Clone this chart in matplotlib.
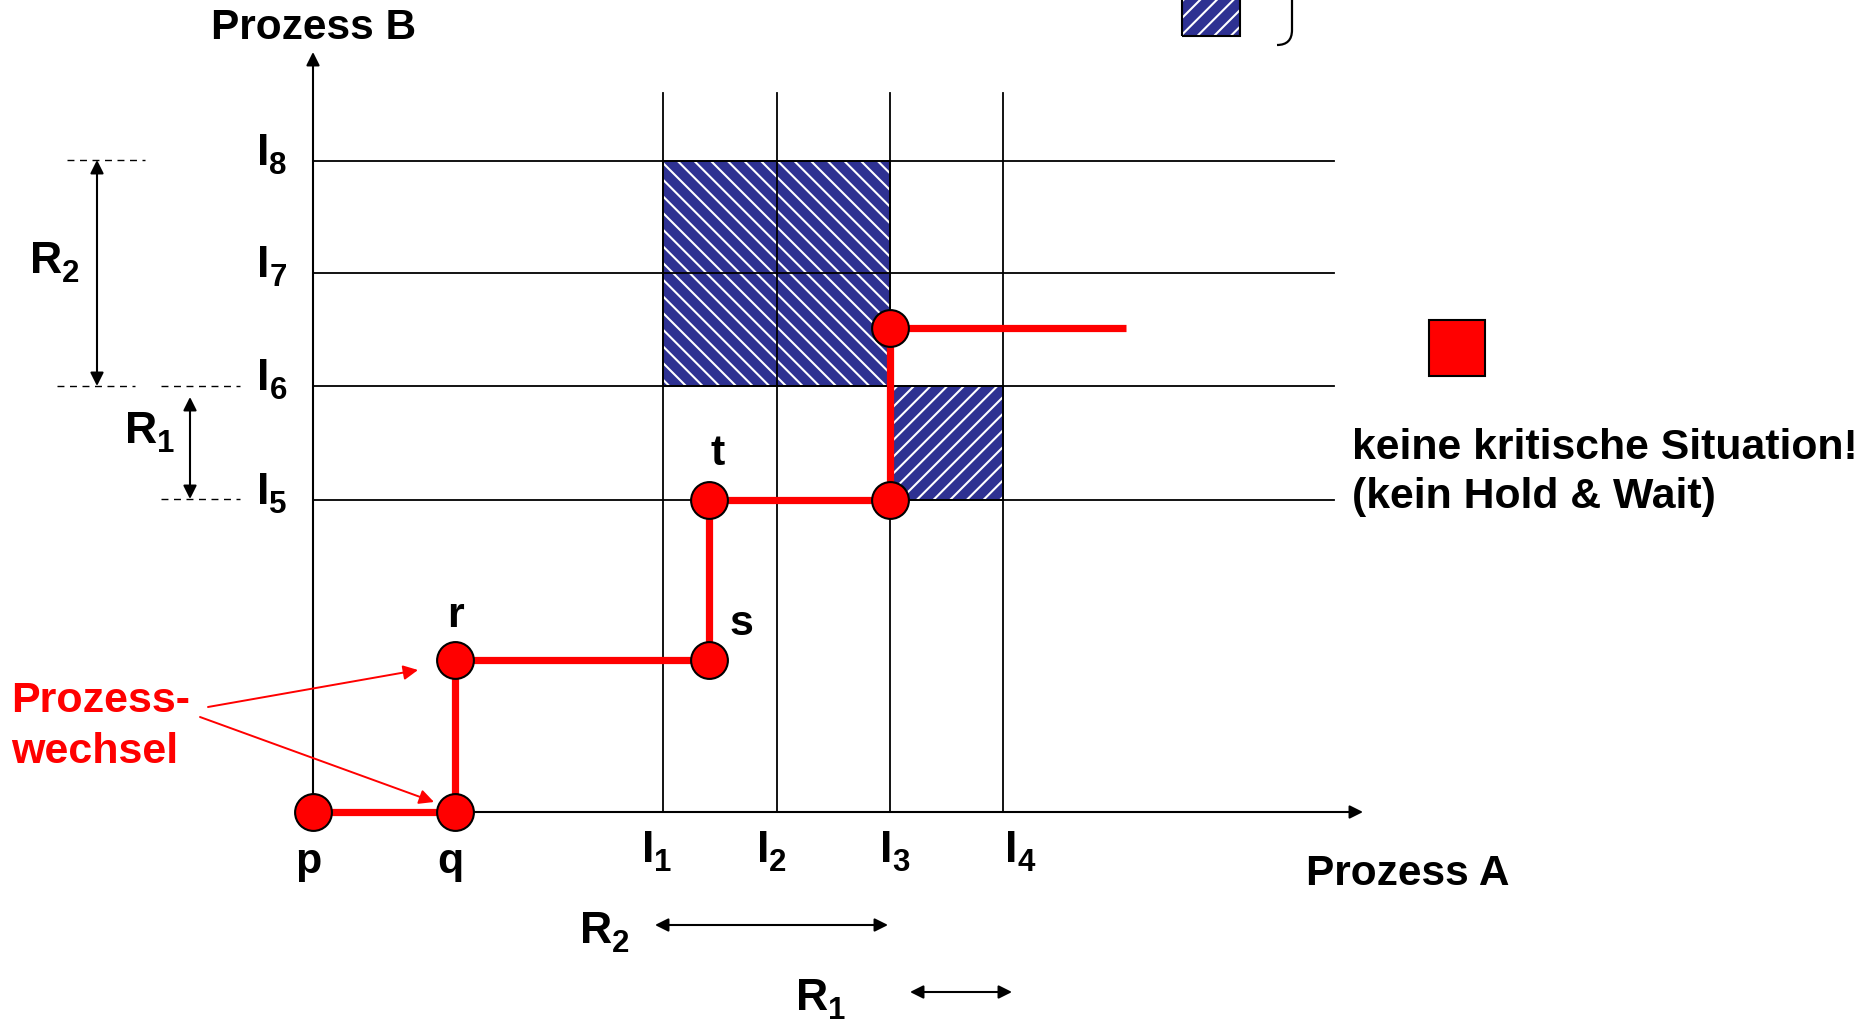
import matplotlib
matplotlib.use('Agg')
import matplotlib.pyplot as plt
from matplotlib.patches import Rectangle, FancyArrowPatch, PathPatch
from matplotlib.path import Path

plt.rcParams['font.family'] = ['Liberation Sans', 'DejaVu Sans']
plt.rcParams['font.weight'] = 'bold'
plt.rcParams['hatch.linewidth'] = 1.5

# ---------------- data ----------------
grid_x_labels = [('I', '1'), ('I', '2'), ('I', '3'), ('I', '4')]
grid_x = [3.08, 4.09, 5.08, 6.08]
grid_y_labels = [('I', '5'), ('I', '6'), ('I', '7'), ('I', '8')]
grid_y = [2.75, 3.75, 4.75, 5.74]

path_x = [0.0, 1.25, 1.25, 3.49, 3.49, 5.08, 5.08, 7.16]
path_y = [0.0, 0.0, 1.34, 1.34, 2.75, 2.75, 4.26, 4.26]
point_names = ['p', 'q', 'r', 's', 't']

# blocked regions (x from grid_x index a to b, y from grid_y index c to d)
block_R2 = (0, 2, 1, 3)   # I1..I3 x I6..I8
block_R1 = (2, 3, 0, 1)   # I3..I4 x I5..I6

# ---------------- layout helpers ----------------
U, OX, OY = 113.5, 313.0, 812.0
W, H = 1872, 1023


def P(xp, yp):
    return ((xp - OX) / U, (OY - yp) / U)


fig = plt.figure(figsize=(W / 100, H / 100), dpi=100)
ax = fig.add_axes([0, 0, 1, 1])
ax.set_xlim(P(0, 0)[0], P(W, 0)[0])
ax.set_ylim(P(0, H)[1], P(0, 0)[1])
ax.axis('off')

NAVY = '#2E3192'
RED = '#FF0000'
MAIN_FS = 32
SUB_FS = 22.5


def sublabel(x, y, main, sub, color='black'):
    """Main text with a subscript placed right after it (baseline at descent line)."""
    t = ax.text(x, y, main, fontsize=MAIN_FS, ha='left', va='baseline', color=color)
    s = ax.annotate(sub, xy=(1, 0), xycoords=t, xytext=(0, 0), textcoords='offset points',
                    fontsize=SUB_FS, ha='left', va='baseline', color=color)
    return t, s


def sublabel_px(xp, yp, main, sub, ha='left'):
    w_main = {'I': 12.4, 'R': 31.8}[main]
    w_sub = 17.6
    total = w_main + w_sub
    if ha == 'right':
        xp = xp - total
    elif ha == 'center':
        xp = xp - total / 2
    return sublabel(*P(xp, yp), main, sub)


# hatched blocks
for (a, b, c, d), hatch in [(block_R2, '\\\\'), (block_R1, '//')]:
    x0, x1 = grid_x[a], grid_x[b]
    y0, y1 = grid_y[c], grid_y[d]
    ax.add_patch(Rectangle((x0, y0), x1 - x0, y1 - y0, facecolor=NAVY,
                           edgecolor='white', hatch=hatch, lw=0, zorder=1))
    ax.add_patch(Rectangle((x0, y0), x1 - x0, y1 - y0, fill=False,
                           edgecolor='black', lw=1.3, zorder=2))

# grid lines
x_right = P(1334, 0)[0]
y_top = P(0, 93)[1]
for gy in grid_y:
    ax.plot([0, x_right], [gy, gy], color='black', lw=1.3, zorder=2)
for gx in grid_x:
    ax.plot([gx, gx], [0, y_top], color='black', lw=1.3, zorder=2)

# axes with arrows
ax.add_patch(FancyArrowPatch((0, 0), P(OX, 52), arrowstyle='-|>', mutation_scale=20,
                             lw=1.5, color='black', shrinkA=0, shrinkB=0, zorder=2))
ax.add_patch(FancyArrowPatch((0, 0), P(1363, OY), arrowstyle='-|>', mutation_scale=20,
                             lw=1.5, color='black', shrinkA=0, shrinkB=0, zorder=2))

# red path and points
ax.plot(path_x, path_y, color=RED, lw=5.2, zorder=3, solid_capstyle='butt')
ax.plot(path_x[:7], path_y[:7], 'o', ms=26.5, mfc=RED, mec='black', mew=1.5, zorder=4)

# point names
name_pos = [(308, 873), (450, 873), (455, 627), (741, 635), (718, 465)]
for name, (xp, yp) in zip(point_names, name_pos):
    ax.text(*P(xp, yp), name, fontsize=31, ha='center', va='baseline', zorder=5)

# axis labels
ax.text(*P(211, 39), 'Prozess B', fontsize=30.5, ha='left', va='baseline')
ax.text(*P(1306, 885), 'Prozess A', fontsize=30.5, ha='left', va='baseline')

# grid labels
x_centers = [657, 772, 895, 1020]
for (m, s), xc in zip(grid_x_labels, x_centers):
    sublabel_px(xc, 862, m, s, ha='center')
for (m, s), gy in zip(grid_y_labels, grid_y):
    sublabel_px(287, OY - gy * U + 4, m, s, ha='right')

# resource range markers on the left
dash = (0, (5, 4))
for (xa, xb, yp) in [(67, 145, 160), (57, 135, 386), (161, 240, 386), (161, 240, 499)]:
    ax.plot([P(xa, 0)[0], P(xb, 0)[0]], [P(0, yp)[1]] * 2, color='black', lw=1.0, ls=dash)


def darrow(p0, p1, ms=20):
    ax.add_patch(FancyArrowPatch(P(*p0), P(*p1), arrowstyle='<|-|>', mutation_scale=ms,
                                 lw=1.5, color='black', shrinkA=0, shrinkB=0))


darrow((97, 160), (97, 386))
darrow((190, 397), (190, 499))
darrow((655, 925), (888, 925))
darrow((910, 992), (1012, 992))

sublabel_px(30, 273, 'R', '2')
sublabel_px(125, 443, 'R', '1')
sublabel_px(580, 943, 'R', '2')
sublabel_px(796, 1010, 'R', '1')

# Prozesswechsel annotation
ax.text(*P(11, 712), 'Prozess-', fontsize=31, color=RED, ha='left', va='baseline')
ax.text(*P(11, 763), 'wechsel', fontsize=31, color=RED, ha='left', va='baseline')
for (s, e) in [((208, 707), (418, 670)), ((200, 717), (434, 802))]:
    ax.add_patch(FancyArrowPatch(P(*s), P(*e), arrowstyle='-|>', mutation_scale=22,
                                 lw=1.4, color=RED, shrinkA=0, shrinkB=0, zorder=5))

# right side legend: red square and text
sq0 = P(1429, 376)
sq1 = P(1485, 320)
ax.add_patch(Rectangle(sq0, sq1[0] - sq0[0], sq1[1] - sq0[1], facecolor=RED,
                       edgecolor='black', lw=1.5, zorder=3))
ax.text(*P(1352, 459), 'keine kritische Situation!', fontsize=30.8, ha='left', va='baseline')
ax.text(*P(1352, 508), '(kein Hold & Wait)', fontsize=30.8, ha='left', va='baseline')

# top legend: hatched square + bracket (partially cut off)
h0 = P(1182, 36)
h1 = P(1240, -10)
ax.add_patch(Rectangle(h0, h1[0] - h0[0], h1[1] - h0[1], facecolor=NAVY,
                       edgecolor='white', hatch='//', lw=0, zorder=1, clip_on=False))
ax.add_patch(Rectangle(h0, h1[0] - h0[0], h1[1] - h0[1], fill=False,
                       edgecolor='black', lw=1.5, zorder=2, clip_on=False))
bracket = Path([P(1292, -5), P(1292, 30), P(1292, 45), P(1277, 45)],
               [Path.MOVETO, Path.LINETO, Path.CURVE3, Path.CURVE3])
ax.add_patch(PathPatch(bracket, fill=False, edgecolor='black', lw=1.6))

fig.savefig('out.png', dpi=100)
